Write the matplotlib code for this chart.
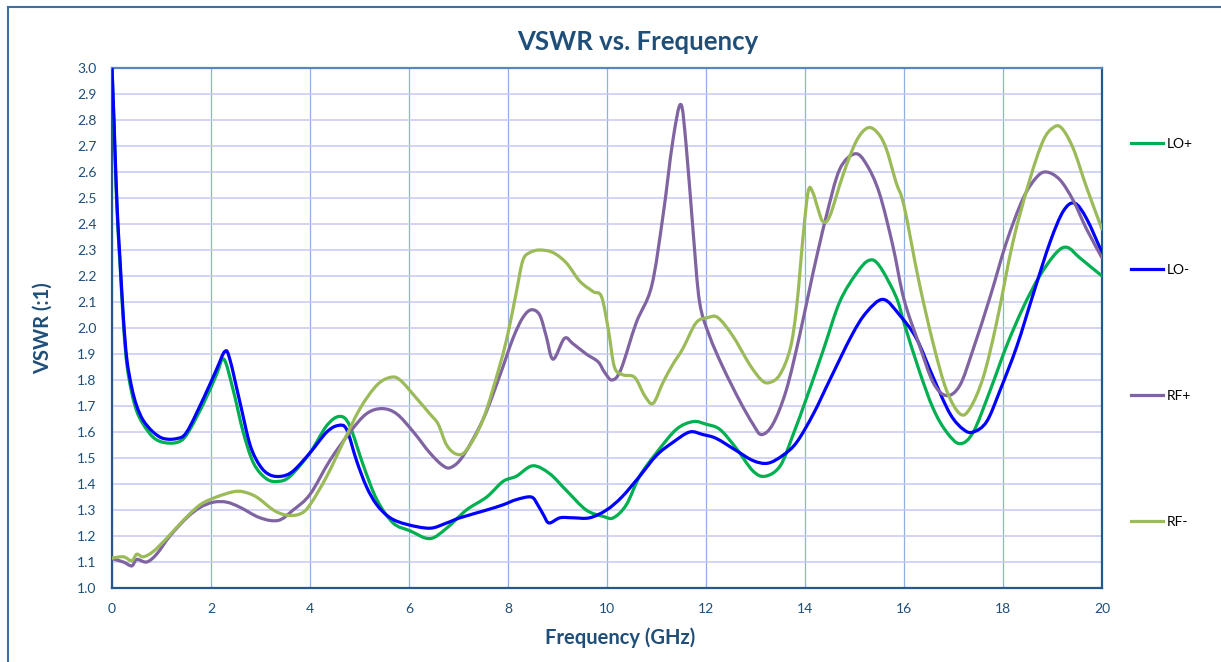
import numpy as np
import matplotlib
matplotlib.use("Agg")
import matplotlib.pyplot as plt
from matplotlib.lines import Line2D
from matplotlib.path import Path
from matplotlib.patches import PathPatch

plt.rcParams['font.family'] = ['Lato', 'DejaVu Sans']

# measured VSWR, frequency in GHz
lo_plus_f = [0, 0.04, 0.08, 0.12, 0.16, 0.23, 0.3, 0.4, 0.5, 0.63, 0.83, 1.04, 1.31, 1.51, 1.85, 2.11, 2.26,
             2.45, 2.65, 2.86, 3.12, 3.36, 3.6, 4.0, 4.34, 4.6, 4.8, 5.08, 5.35, 5.68, 6.02, 6.42, 6.76, 7.16,
             7.57, 7.9, 8.17, 8.5, 8.84, 9.18, 9.58, 9.93, 10.13, 10.39, 10.66, 11.0, 11.4, 11.74, 12.0, 12.28,
             12.6, 12.95, 13.2, 13.5, 13.76, 14.03, 14.36, 14.7, 15.04, 15.29, 15.5, 15.84, 16.0, 16.3, 16.59,
             16.86, 17.13, 17.4, 17.74, 18.07, 18.41, 18.74, 19.08, 19.3, 19.55, 20.0]
lo_plus = [3.0, 2.78, 2.55, 2.38, 2.25, 2.02, 1.86, 1.75, 1.68, 1.63, 1.58, 1.56, 1.56, 1.59, 1.71, 1.82, 1.88,
           1.76, 1.60, 1.48, 1.42, 1.41, 1.43, 1.52, 1.625, 1.66, 1.625, 1.47, 1.34, 1.25, 1.22, 1.19, 1.23, 1.30,
           1.35, 1.41, 1.43, 1.47, 1.44, 1.375, 1.30, 1.275, 1.27, 1.32, 1.43, 1.52, 1.61, 1.64, 1.63, 1.61,
           1.54, 1.45, 1.43, 1.47, 1.59, 1.73, 1.91, 2.10, 2.21, 2.26, 2.24, 2.12, 2.02, 1.84, 1.69,
           1.60, 1.555, 1.60, 1.76, 1.93, 2.08, 2.20, 2.29, 2.31, 2.27, 2.20]

lo_minus_f = [0, 0.04, 0.08, 0.12, 0.16, 0.23, 0.3, 0.4, 0.5, 0.63, 0.83, 1.04, 1.31, 1.51, 1.85, 2.11, 2.28,
              2.38, 2.59, 2.79, 2.99, 3.19, 3.43, 3.66, 4.0, 4.34, 4.57, 4.74, 4.94, 5.14, 5.35, 5.62, 5.95, 6.42,
              6.76, 7.03, 7.57, 7.9, 8.17, 8.47, 8.6, 8.72, 8.83, 9.05, 9.31, 9.65, 9.99, 10.3, 10.66, 11.0,
              11.33, 11.67, 11.94, 12.21, 12.6, 12.95, 13.25, 13.55, 13.83, 14.17, 14.5, 14.94, 15.24, 15.58,
              15.91, 16.25, 16.59, 16.93, 17.2, 17.4, 17.67, 17.94, 18.28, 18.61, 18.95, 19.22, 19.45, 19.69, 20.0]
lo_minus = [3.0, 2.80, 2.58, 2.40, 2.27, 2.04, 1.88, 1.77, 1.70, 1.645, 1.60, 1.575, 1.575, 1.60, 1.73, 1.84, 1.91,
            1.88, 1.71, 1.55, 1.47, 1.435, 1.43, 1.45, 1.52, 1.60, 1.625, 1.61, 1.49, 1.39, 1.32, 1.27, 1.245, 1.23,
            1.25, 1.27, 1.30, 1.32, 1.34, 1.35, 1.32, 1.28, 1.25, 1.27, 1.27, 1.27, 1.30, 1.35, 1.43, 1.51,
            1.56, 1.60, 1.59, 1.575, 1.53, 1.49, 1.48, 1.51, 1.56, 1.67, 1.80, 1.97, 2.06, 2.11,
            2.05, 1.96, 1.81, 1.67, 1.61, 1.60, 1.64, 1.76, 1.93, 2.13, 2.33, 2.45, 2.48, 2.42, 2.29]

rf_plus_f = [0, 0.23, 0.4, 0.5, 0.7, 0.9, 1.17, 1.51, 1.78, 2.05, 2.32, 2.59, 2.99, 3.36, 3.66, 4.0, 4.4, 4.81,
             5.14, 5.45, 5.75, 6.09, 6.42, 6.69, 6.86, 7.1, 7.5, 7.84, 8.1, 8.3, 8.47, 8.64, 8.77, 8.91, 9.14,
             9.31, 9.58, 9.82, 9.95, 10.1, 10.28, 10.59, 10.9, 11.13, 11.33, 11.49, 11.6, 11.74, 11.87, 12.07,
             12.34, 12.68, 12.95, 13.12, 13.35, 13.62, 13.89, 14.16, 14.43, 14.7, 15.01, 15.24, 15.5, 15.77,
             16.0, 16.3, 16.59, 16.86, 17.13, 17.4, 17.74, 18.07, 18.41, 18.68, 18.88, 19.15, 19.42, 19.69, 20.0]
rf_plus = [1.113, 1.10, 1.085, 1.11, 1.10, 1.13, 1.20, 1.27, 1.31, 1.33, 1.33, 1.31, 1.27, 1.26, 1.30, 1.36, 1.49, 1.60,
           1.67, 1.69, 1.67, 1.60, 1.52, 1.47, 1.465, 1.51, 1.65, 1.82, 1.96, 2.04, 2.07, 2.05, 1.97, 1.88, 1.96,
           1.94, 1.90, 1.87, 1.83, 1.80, 1.84, 2.02, 2.16, 2.43, 2.72, 2.86, 2.70, 2.37, 2.10, 1.97,
           1.85, 1.72, 1.63, 1.59, 1.63, 1.76, 1.97, 2.21, 2.43, 2.61, 2.67, 2.63, 2.52, 2.32,
           2.11, 1.94, 1.79, 1.74, 1.78, 1.92, 2.12, 2.33, 2.50, 2.58, 2.60, 2.57, 2.49, 2.38, 2.27]

rf_minus_f = [0, 0.23, 0.4, 0.5, 0.63, 0.83, 1.1, 1.44, 1.78, 2.11, 2.45, 2.65, 2.92, 3.26, 3.53, 3.8, 4.0, 4.34,
              4.67, 5.01, 5.35, 5.62, 5.82, 6.15, 6.42, 6.59, 6.76, 6.96, 7.16, 7.5, 7.84, 8.0, 8.17, 8.3, 8.44,
              8.64, 8.91, 9.18, 9.45, 9.72, 9.89, 10.03, 10.15, 10.32, 10.56, 10.76, 10.93, 11.13, 11.33, 11.53,
              11.8, 12.04, 12.24, 12.54, 12.88, 13.12, 13.28, 13.49, 13.7, 13.83, 13.97, 14.07, 14.16, 14.26,
              14.36, 14.5, 14.77, 15.04, 15.27, 15.47, 15.64, 15.84, 16.0, 16.3, 16.59, 16.86, 17.13, 17.33,
              17.6, 17.87, 18.2, 18.54, 18.81, 19.01, 19.18, 19.42, 19.69, 20.0]
rf_minus = [1.115, 1.12, 1.105, 1.13, 1.12, 1.14, 1.19, 1.26, 1.32, 1.35, 1.37, 1.37, 1.35, 1.30, 1.28, 1.285, 1.32, 1.43,
            1.56, 1.69, 1.78, 1.81, 1.80, 1.73, 1.67, 1.63, 1.55, 1.515, 1.53, 1.65, 1.86, 1.98, 2.14, 2.26, 2.29,
            2.30, 2.29, 2.25, 2.18, 2.14, 2.12, 1.99, 1.85, 1.82, 1.81, 1.74, 1.71, 1.79, 1.86, 1.92,
            2.02, 2.04, 2.04, 1.97, 1.86, 1.80, 1.79, 1.82, 1.92, 2.08, 2.37, 2.53, 2.52, 2.46,
            2.41, 2.43, 2.59, 2.72, 2.77, 2.75, 2.69, 2.56, 2.47, 2.18, 1.94, 1.76, 1.67, 1.69,
            1.81, 2.02, 2.33, 2.57, 2.72, 2.77, 2.77, 2.69, 2.54, 2.38]

series_names = ['LO+', 'LO-', 'RF+', 'RF-']
series_colors = ['#00B050', '#0000FF', '#8064A2', '#9BBB59']

x_ticks = np.arange(0, 21, 2)
y_ticks = np.round(np.arange(1.0, 3.01, 0.1), 1)

text_col = '#1F4E79'


def smooth_path(x, y):
    # cubic bezier through every point (catmull-rom tangents), like a "smoothed line" chart
    p = np.column_stack([x, y]).astype(float)
    n = len(p)
    verts = [p[0]]
    codes = [Path.MOVETO]
    for i in range(n - 1):
        p0 = p[i - 1] if i > 0 else p[i]
        p3 = p[i + 2] if i + 2 < n else p[i + 1]
        c1 = p[i] + (p[i + 1] - p0) / 6.0
        c2 = p[i + 1] - (p3 - p[i]) / 6.0
        verts += [c1, c2, p[i + 1]]
        codes += [Path.CURVE4] * 3
    return Path(verts, codes)


fig = plt.figure(figsize=(12.21, 6.62), dpi=100)
ax = fig.add_axes([112 / 1221, 74 / 662, 990 / 1221, 520 / 662])

# outer chart frame (left and top edges)
fig.add_artist(Line2D([8 / 1221, 8 / 1221], [0, 1 - 7 / 662], transform=fig.transFigure,
                      color='#3D6FA3', lw=1.5))
fig.add_artist(Line2D([8 / 1221, 1], [1 - 7 / 662, 1 - 7 / 662], transform=fig.transFigure,
                      color='#3D6FA3', lw=1.5))

data = [(lo_plus_f, lo_plus), (lo_minus_f, lo_minus), (rf_plus_f, rf_plus), (rf_minus_f, rf_minus)]
handles = []
for (f, v), name, col in zip(data, series_names, series_colors):
    patch = PathPatch(smooth_path(f, v), fill=False, edgecolor=col, lw=2.3,
                      joinstyle='round', capstyle='round', zorder=3)
    patch.set_clip_path(ax.patch)
    ax.add_patch(patch)
    handles.append(Line2D([], [], color=col, lw=2.3, label=name))

ax.set_xlim(0, 20)
ax.set_ylim(1.0, 3.0)
ax.set_xticks(x_ticks)
ax.set_yticks(y_ticks)
ax.set_yticklabels([f'{t:.1f}' for t in y_ticks])
ax.tick_params(length=0, labelsize=10, colors=text_col)
ax.tick_params(axis='y', pad=11)
ax.tick_params(axis='x', pad=11)

ax.yaxis.grid(True, color='#C8C8F5', lw=1.1)
ax.xaxis.grid(True, color='#8CB0E0', lw=0.9)
ax.set_axisbelow(True)

for side in ['left', 'bottom', 'right']:
    ax.spines[side].set_color('#24598A')
    ax.spines[side].set_linewidth(1.6)
ax.spines['top'].set_color('#5A86BF')
ax.spines['top'].set_linewidth(1.6)

ax.set_xlabel('Frequency (GHz)', fontsize=14.5, fontweight='bold', color=text_col)
ax.set_ylabel('VSWR (:1)', fontsize=14.5, fontweight='bold', color=text_col)
ax.xaxis.set_label_coords(0.513, -0.075)
ax.yaxis.set_label_coords(-0.0595, 0.5)

fig.text(638 / 1221, 1 - 42 / 662, 'VSWR vs. Frequency', fontsize=18.5, fontweight='bold',
         color=text_col, ha='center', va='center')

fig.legend(handles=handles, loc='upper left', bbox_to_anchor=(1131 / 1221, 1 - 138 / 662), frameon=False,
           fontsize=10, handlelength=2.3, handletextpad=0.3, labelspacing=8.2,
           borderpad=0, borderaxespad=0)

fig.savefig('out.png', dpi=100)
